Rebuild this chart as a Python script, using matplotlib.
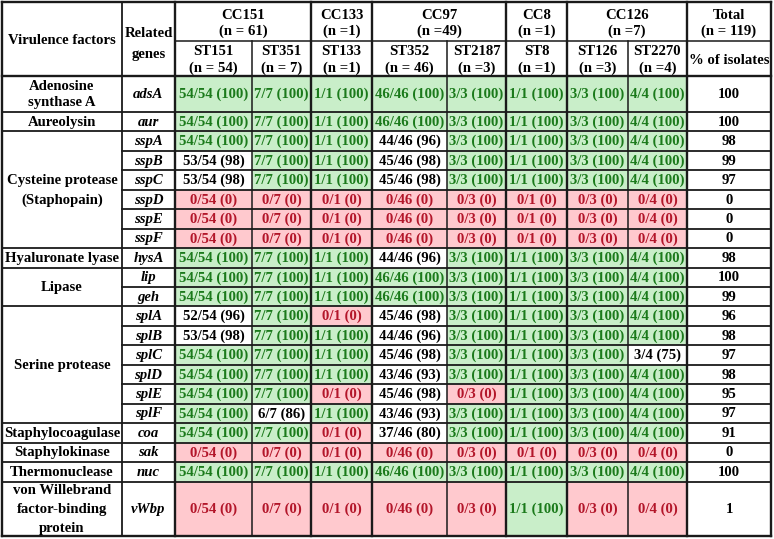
import matplotlib
matplotlib.use("Agg")
import matplotlib.pyplot as plt
from matplotlib.patches import Rectangle

# ---------------- data ----------------
cc_groups = ["CC151\n(n = 61)", "CC133\n(n =1)", "CC97\n(n =49)", "CC8\n(n =1)", "CC126\n(n =7)"]
cc_span = [2, 1, 2, 1, 2]
st_labels = ["ST151\n(n = 54)", "ST351\n(n = 7)", "ST133\n(n =1)", "ST352\n(n = 46)",
             "ST2187\n(n =3)", "ST8\n(n =1)", "ST126\n(n =3)", "ST2270\n(n =4)"]
st_n = [54, 7, 1, 46, 3, 1, 3, 4]

factors = ["Adenosine\nsynthase A", "Aureolysin", "Cysteine protease\n(Staphopain)",
           "Hyaluronate lyase", "Lipase", "Serine protease", "Staphylocoagulase",
           "Staphylokinase", "Thermonuclease", "von Willebrand\nfactor-binding\nprotein"]
factor_nrows = [1, 1, 6, 1, 2, 6, 1, 1, 1, 1]

genes = ["adsA", "aur", "sspA", "sspB", "sspC", "sspD", "sspE", "sspF", "hysA", "lip", "geh",
         "splA", "splB", "splC", "splD", "splE", "splF", "coa", "sak", "nuc", "vWbp"]

st151 = [54, 54, 54, 53, 53, 0, 0, 0, 54, 54, 54, 52, 53, 54, 54, 54, 54, 54, 0, 54, 0]
st351 = [7, 7, 7, 7, 7, 0, 0, 0, 7, 7, 7, 7, 7, 7, 7, 7, 6, 7, 0, 7, 0]
st133 = [1, 1, 1, 1, 1, 0, 0, 0, 1, 1, 1, 0, 1, 1, 1, 0, 1, 0, 0, 1, 0]
st352 = [46, 46, 44, 45, 45, 0, 0, 0, 44, 46, 46, 45, 44, 45, 43, 45, 43, 37, 0, 46, 0]
st2187 = [3, 3, 3, 3, 3, 0, 0, 0, 3, 3, 3, 3, 3, 3, 3, 0, 3, 3, 0, 3, 0]
st8 = [1, 1, 1, 1, 1, 0, 0, 0, 1, 1, 1, 1, 1, 1, 1, 1, 1, 1, 0, 1, 1]
st126 = [3, 3, 3, 3, 3, 0, 0, 0, 3, 3, 3, 3, 3, 3, 3, 3, 3, 3, 0, 3, 0]
st2270 = [4, 4, 4, 4, 4, 0, 0, 0, 4, 4, 4, 4, 4, 3, 4, 4, 4, 4, 0, 4, 0]
total_pct = [100, 100, 98, 99, 97, 0, 0, 0, 98, 100, 99, 96, 98, 97, 98, 95, 97, 91, 0, 100, 1]

st_counts = [st151, st351, st133, st352, st2187, st8, st126, st2270]

# ---------------- layout (pixels) ----------------
W, H = 774, 539
col_x = [2, 122, 175, 252, 311, 372, 447, 506, 567, 628, 687, 771]
y_top, y_mid, y_head = 2, 41, 76
std_h = 19.45
row_h = [36] + [std_h] * 19 + [54]
factor_ls = [1.3, 1.2, 1.6, 1.2, 1.2, 1.2, 1.2, 1.2, 1.2, 1.6]

GREEN_BG, GREEN_TX = "#c9eec9", "#1b7a1b"
RED_BG, RED_TX = "#ffc9ce", "#b3162a"
LINE = "#1a1a1a"
FONT = "Liberation Serif"
FS = 10.6

fig = plt.figure(figsize=(W / 100, H / 100), dpi=100)
ax = fig.add_axes([0, 0, 1, 1])
ax.set_xlim(0, W)
ax.set_ylim(H, 0)
ax.axis("off")

def txt(x, y, s, color="black", style="normal", ls=1.15):
    ax.text(x, y, s, ha="center", va="center", fontsize=FS, fontweight="bold",
            family=FONT, color=color, fontstyle=style, linespacing=ls)

# row boundaries
row_y = [y_head]
for h in row_h:
    row_y.append(row_y[-1] + h)
y_bot = row_y[-1]

# data cells
for j, counts in enumerate(st_counts):
    x0, x1 = col_x[j + 2], col_x[j + 3]
    n = st_n[j]
    for i, c in enumerate(counts):
        y0, y1 = row_y[i], row_y[i + 1]
        if c == n:
            bg, tc = GREEN_BG, GREEN_TX
        elif c == 0:
            bg, tc = RED_BG, RED_TX
        else:
            bg, tc = None, "black"
        if bg:
            ax.add_patch(Rectangle((x0, y0), x1 - x0, y1 - y0, facecolor=bg, edgecolor="none"))
        pct = round(100 * c / n)
        txt((x0 + x1) / 2, (y0 + y1) / 2 + 0.5, f"{c}/{n} ({pct})", color=tc)

# gene column and total column
for i, g in enumerate(genes):
    yc = (row_y[i] + row_y[i + 1]) / 2 + 0.5
    txt((col_x[1] + col_x[2]) / 2, yc, g, style="italic")
    txt((col_x[10] + col_x[11]) / 2, yc, str(total_pct[i]))

# virulence factor column
r = 0
fac_bounds = [0]
for f, k, ls in zip(factors, factor_nrows, factor_ls):
    y0, y1 = row_y[r], row_y[r + k]
    txt((col_x[0] + col_x[1]) / 2, (y0 + y1) / 2 + 0.5, f, ls=ls)
    r += k
    fac_bounds.append(r)

# header
txt((col_x[0] + col_x[1]) / 2, (y_top + y_head) / 2 + 1, "Virulence factors")
txt((col_x[1] + col_x[2]) / 2, 44, "Related\ngenes", ls=1.75)
c = 2
cc_edges = [2]
for lab, sp in zip(cc_groups, cc_span):
    txt((col_x[c] + col_x[c + sp]) / 2, (y_top + y_mid) / 2 + 2, lab, ls=1.3)
    c += sp
    cc_edges.append(c)
txt((col_x[10] + col_x[11]) / 2, (y_top + y_mid) / 2 + 2, "Total\n(n = 119)", ls=1.3)
for j, lab in enumerate(st_labels):
    txt((col_x[j + 2] + col_x[j + 3]) / 2, (y_mid + y_head) / 2 + 1.5, lab, ls=1.25)
txt((col_x[10] + col_x[11]) / 2, (y_mid + y_head) / 2 + 1.5, "% of isolates")

# ---------------- grid lines ----------------
thin, thick = 1.1, 1.7
# horizontal
ax.plot([col_x[0], col_x[-1]], [y_top, y_top], color=LINE, lw=thick)
ax.plot([col_x[2], col_x[-1]], [y_mid, y_mid], color=LINE, lw=thin)
ax.plot([col_x[0], col_x[-1]], [y_head, y_head], color=LINE, lw=thick)
for i in range(1, len(row_y)):
    ax.plot([col_x[1], col_x[-1]], [row_y[i], row_y[i]], color=LINE, lw=thin + 0.2)
for b in fac_bounds[1:]:
    ax.plot([col_x[0], col_x[1]], [row_y[b], row_y[b]], color=LINE, lw=thin + 0.2)
ax.plot([col_x[0], col_x[-1]], [y_bot, y_bot], color=LINE, lw=thick)
# vertical
for k, x in enumerate(col_x):
    if k in (0, 1, 2, 10, 11) or (k in cc_edges):
        ax.plot([x, x], [y_top, y_bot], color=LINE, lw=thick if k != 1 else thin + 0.2)
    else:
        ax.plot([x, x], [y_mid, y_bot], color=LINE, lw=thin)

fig.savefig("out.png", dpi=100, facecolor="white")
